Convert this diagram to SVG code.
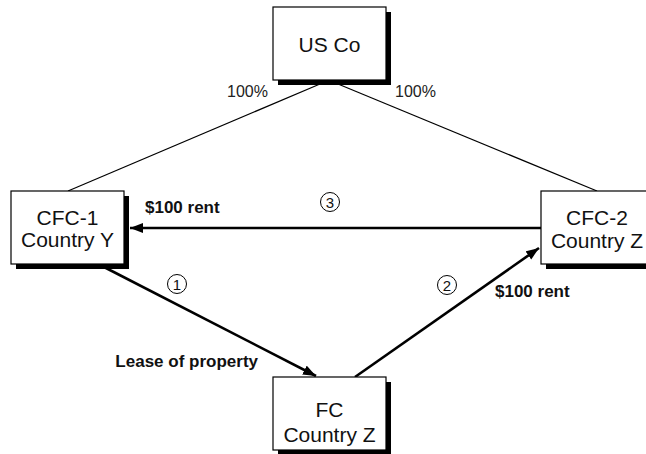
<svg xmlns="http://www.w3.org/2000/svg" width="646" height="454" viewBox="0 0 646 454">
  <style>
    .box { fill: #ffffff; stroke: #000000; stroke-width: 1.2; }
    .shadow { fill: #000000; }
    .name { font-family: "Liberation Sans", Arial, sans-serif; font-size: 21px; fill: #111111; text-anchor: middle; }
    .label { font-family: "Liberation Sans", Arial, sans-serif; font-size: 17px; font-weight: bold; fill: #111111; }
    .pct { font-family: "Liberation Sans", Arial, sans-serif; font-size: 16px; fill: #222222; }
    .num { font-family: "Liberation Sans", Arial, sans-serif; font-size: 15px; fill: #111111; text-anchor: middle; }
    .ring { fill: none; stroke: #000000; stroke-width: 1; }
    .own { stroke: #000000; stroke-width: 1.2; fill: none; }
    .flow { stroke: #000000; stroke-width: 2.6; fill: none; marker-end: url(#head); }
  </style>
  <defs>
    <marker id="head" markerUnits="userSpaceOnUse" markerWidth="14" markerHeight="12" refX="13" refY="5" orient="auto">
      <path d="M0,0 L13,5 L0,10 Z" fill="#000000"/>
    </marker>
  </defs>
  <rect width="646" height="454" fill="#ffffff"/>

  <!-- ownership lines and payment flows -->
  <g id="connectors">
    <line class="own" x1="320" y1="84" x2="68" y2="191"/>
    <line class="own" x1="338" y1="84" x2="597" y2="191"/>
    <line class="flow" x1="541" y1="228" x2="130" y2="228"/>
    <line class="flow" x1="104" y1="267" x2="316" y2="376"/>
    <line class="flow" x1="355" y1="377" x2="539" y2="248"/>
  </g>

  <g id="us-co">
    <rect class="shadow" x="278" y="12" width="113" height="73"/>
    <rect class="box" x="273" y="7" width="113" height="73"/>
    <text class="name" x="329.5" y="52">US Co</text>
  </g>

  <g id="cfc-1">
    <rect class="shadow" x="16" y="196" width="113" height="73"/>
    <rect class="box" x="11" y="191" width="113" height="73"/>
    <text class="name" x="67.5" y="225">CFC-1</text>
    <text class="name" x="67.5" y="247">Country Y</text>
  </g>

  <g id="cfc-2">
    <rect class="shadow" x="546" y="196" width="113" height="73"/>
    <rect class="box" x="541" y="191" width="113" height="73"/>
    <text class="name" x="597" y="225">CFC-2</text>
    <text class="name" x="597" y="248">Country Z</text>
  </g>

  <g id="fc">
    <rect class="shadow" x="278" y="382" width="113" height="73"/>
    <rect class="box" x="273" y="377" width="113" height="73"/>
    <text class="name" x="329.5" y="417">FC</text>
    <text class="name" x="329.5" y="442">Country Z</text>
  </g>

  <g id="labels">
    <text class="pct" x="227" y="97">100%</text>
    <text class="pct" x="395" y="97">100%</text>
    <text class="label" x="145" y="213">$100 rent</text>
    <text class="label" x="495" y="297">$100 rent</text>
    <text class="label" x="258" y="367" text-anchor="end">Lease of property</text>
    <circle class="ring" cx="330" cy="202" r="9.5"/>
    <text class="num" x="330" y="207.5">3</text>
    <circle class="ring" cx="177" cy="284" r="9.5"/>
    <text class="num" x="177" y="289.5">1</text>
    <circle class="ring" cx="447" cy="285" r="9.5"/>
    <text class="num" x="447" y="290.5">2</text>
  </g>
</svg>
